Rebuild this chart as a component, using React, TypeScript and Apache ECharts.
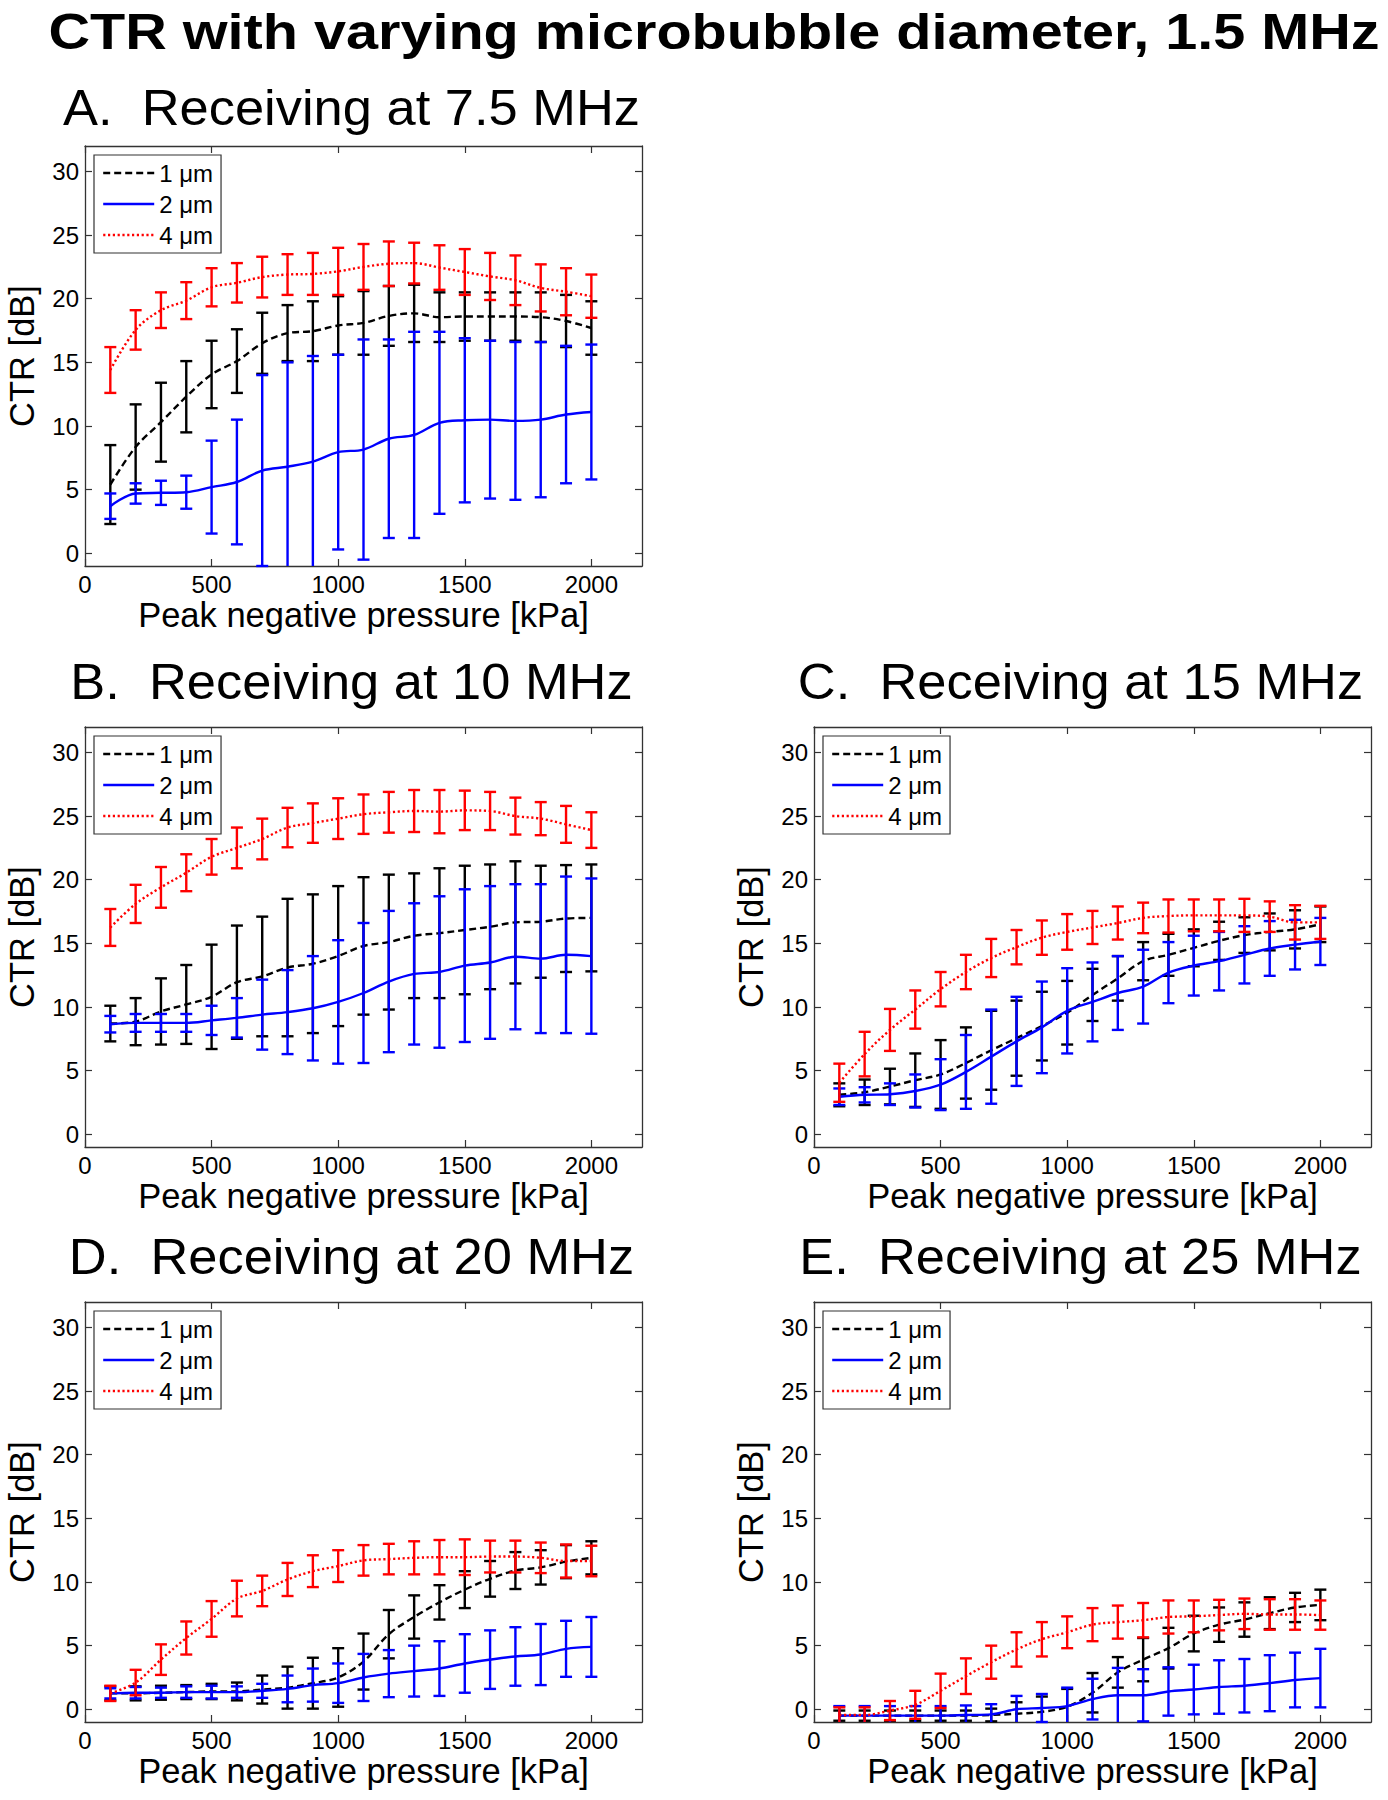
import React, { useEffect, useRef } from "react";
import * as echarts from "echarts";

// ---------------- DATA ----------------
const PRESSURE = [100, 200, 300, 400, 500, 600, 700, 800, 900, 1000, 1100, 1200, 1300, 1400, 1500, 1600, 1700, 1800, 1900, 2000];
const X_TICKS = [0, 500, 1000, 1500, 2000];
const Y_TICKS = [0, 5, 10, 15, 20, 25, 30];
const SERIES_NAMES = ["1 \u03bcm", "2 \u03bcm", "4 \u03bcm"];
const MAIN_TITLE = "CTR with varying microbubble diameter, 1.5 MHz";
const PANEL_TITLES = ["A.  Receiving at 7.5 MHz", "B.  Receiving at 10 MHz", "C.  Receiving at 15 MHz", "D.  Receiving at 20 MHz", "E.  Receiving at 25 MHz"];
const X_NAME = "Peak negative pressure [kPa]";
const Y_NAME = "CTR [dB]";

// Panel A – 7.5 MHz
const A_MEAN_1 = [5.4, 8.35, 10.3, 12.3, 14.05, 15.1, 16.5, 17.3, 17.45, 17.9, 18.1, 18.65, 18.85, 18.55, 18.6, 18.6, 18.6, 18.55, 18.25, 17.7];
const A_ERR_1 = [3.1, 3.35, 3.1, 2.8, 2.65, 2.5, 2.4, 2.2, 2.35, 2.3, 2.5, 2.35, 2.25, 1.95, 1.9, 1.9, 1.9, 1.95, 2.05, 2.1];
const A_MEAN_2 = [3.7, 4.7, 4.75, 4.8, 5.2, 5.6, 6.5, 6.8, 7.2, 7.95, 8.15, 9.0, 9.3, 10.25, 10.45, 10.5, 10.4, 10.5, 10.9, 11.1];
const A_ERR_2 = [1.0, 0.8, 0.95, 1.3, 3.65, 4.9, 7.5, 8.2, 8.3, 7.65, 8.65, 7.8, 8.1, 7.15, 6.45, 6.2, 6.2, 6.1, 5.4, 5.3];
const A_MEAN_4 = [14.4, 17.55, 19.1, 19.85, 20.9, 21.25, 21.7, 21.9, 21.95, 22.15, 22.5, 22.75, 22.8, 22.45, 22.1, 21.75, 21.45, 20.85, 20.55, 20.2];
const A_ERR_4 = [1.8, 1.55, 1.4, 1.45, 1.5, 1.55, 1.6, 1.6, 1.65, 1.85, 1.8, 1.75, 1.6, 1.75, 1.8, 1.85, 1.95, 1.85, 1.85, 1.7];

// Panel B – 10 MHz
const B_MEAN_1 = [8.7, 8.85, 9.65, 10.2, 10.8, 11.95, 12.4, 13.1, 13.4, 14.0, 14.8, 15.1, 15.6, 15.8, 16.05, 16.3, 16.65, 16.7, 16.95, 17.0];
const B_ERR_1 = [1.4, 1.85, 2.6, 3.1, 4.1, 4.45, 4.7, 5.4, 5.45, 5.5, 5.4, 5.3, 4.9, 5.1, 5.05, 4.9, 4.8, 4.4, 4.2, 4.2];
const B_MEAN_2 = [8.65, 8.75, 8.75, 8.75, 8.95, 9.15, 9.4, 9.6, 9.9, 10.4, 11.1, 12.0, 12.6, 12.75, 13.25, 13.5, 13.95, 13.8, 14.1, 14.0];
const B_ERR_2 = [0.65, 0.7, 0.7, 0.7, 1.15, 1.55, 2.75, 3.3, 4.1, 4.85, 5.5, 5.55, 5.55, 5.95, 6.0, 6.0, 5.7, 5.85, 6.15, 6.1];
const B_MEAN_4 = [16.25, 18.1, 19.4, 20.55, 21.8, 22.5, 23.2, 24.1, 24.45, 24.8, 25.15, 25.3, 25.4, 25.35, 25.45, 25.4, 25.0, 24.8, 24.35, 23.9];
const B_ERR_4 = [1.45, 1.5, 1.6, 1.45, 1.4, 1.6, 1.6, 1.55, 1.55, 1.6, 1.55, 1.6, 1.65, 1.7, 1.55, 1.5, 1.45, 1.3, 1.45, 1.4];

// Panel C – 15 MHz
const C_MEAN_1 = [3.1, 3.3, 3.75, 4.25, 4.7, 5.6, 6.6, 7.55, 8.5, 9.55, 10.95, 12.25, 13.6, 14.1, 14.65, 15.2, 15.65, 15.9, 16.1, 16.5];
const C_ERR_1 = [0.9, 1.0, 1.4, 2.1, 2.7, 2.8, 3.1, 2.95, 2.7, 2.5, 2.05, 1.75, 1.5, 1.65, 1.45, 1.5, 1.4, 1.45, 1.5, 1.4];
const C_MEAN_2 = [2.95, 3.1, 3.15, 3.4, 3.9, 4.9, 6.1, 7.3, 8.4, 9.7, 10.4, 11.1, 11.6, 12.7, 13.25, 13.6, 14.1, 14.6, 14.9, 15.15];
const C_ERR_2 = [0.65, 0.6, 0.85, 1.3, 2.0, 2.9, 3.7, 3.5, 3.6, 3.35, 3.1, 2.9, 2.9, 2.4, 2.35, 2.3, 2.25, 2.15, 1.95, 1.85];
const C_MEAN_4 = [4.05, 6.3, 8.2, 9.8, 11.4, 12.75, 13.85, 14.7, 15.45, 15.9, 16.25, 16.6, 17.0, 17.15, 17.2, 17.2, 17.2, 17.1, 16.65, 16.65];
const C_ERR_4 = [1.5, 1.75, 1.65, 1.5, 1.35, 1.35, 1.5, 1.35, 1.35, 1.4, 1.3, 1.3, 1.2, 1.3, 1.25, 1.25, 1.3, 1.2, 1.35, 1.3];

// Panel D – 20 MHz
const D_MEAN_1 = [1.25, 1.25, 1.3, 1.35, 1.4, 1.4, 1.55, 1.7, 2.05, 2.5, 3.75, 5.9, 7.25, 8.4, 9.4, 10.25, 10.9, 11.15, 11.6, 11.9];
const D_ERR_1 = [0.55, 0.55, 0.55, 0.55, 0.6, 0.7, 1.1, 1.65, 2.0, 2.3, 2.2, 1.9, 1.7, 1.35, 1.45, 1.4, 1.45, 1.35, 1.3, 1.3];
const D_MEAN_2 = [1.25, 1.3, 1.3, 1.35, 1.35, 1.35, 1.45, 1.6, 1.9, 2.05, 2.5, 2.8, 3.0, 3.2, 3.6, 3.9, 4.15, 4.3, 4.75, 4.9];
const D_ERR_2 = [0.4, 0.45, 0.4, 0.45, 0.5, 0.45, 0.55, 1.05, 1.3, 1.55, 1.85, 1.85, 2.0, 2.15, 2.3, 2.3, 2.3, 2.4, 2.2, 2.35];
const D_MEAN_4 = [1.25, 2.1, 3.9, 5.6, 7.1, 8.7, 9.3, 10.2, 10.85, 11.25, 11.7, 11.8, 11.9, 11.95, 11.95, 12.0, 12.0, 11.9, 11.65, 11.65];
const D_ERR_4 = [0.6, 1.0, 1.2, 1.3, 1.4, 1.4, 1.2, 1.3, 1.25, 1.25, 1.2, 1.2, 1.3, 1.35, 1.4, 1.25, 1.25, 1.2, 1.3, 1.2];

// Panel E – 25 MHz
const E_MEAN_1 = [-0.5, -0.5, -0.5, -0.5, -0.5, -0.5, -0.45, -0.35, -0.2, 0.2, 1.3, 2.9, 3.9, 4.8, 5.95, 6.65, 7.05, 7.55, 8.0, 8.2];
const E_ERR_1 = [0.4, 0.4, 0.4, 0.4, 0.4, 0.4, 0.5, 0.9, 1.2, 1.4, 1.55, 1.2, 1.7, 1.6, 1.4, 1.35, 1.35, 1.25, 1.15, 1.2];
const E_MEAN_2 = [-0.5, -0.5, -0.5, -0.5, -0.5, -0.45, -0.4, 0.0, 0.1, 0.25, 0.8, 1.1, 1.1, 1.4, 1.55, 1.75, 1.85, 2.05, 2.3, 2.45];
const E_ERR_2 = [0.75, 0.75, 0.75, 0.75, 0.75, 0.75, 0.8, 1.05, 1.1, 1.45, 1.6, 2.15, 2.05, 1.9, 1.95, 2.1, 2.1, 2.2, 2.15, 2.3];
const E_MEAN_4 = [-0.45, -0.45, -0.1, 0.35, 1.45, 2.6, 3.7, 4.7, 5.5, 6.05, 6.65, 6.85, 7.0, 7.25, 7.3, 7.4, 7.5, 7.45, 7.45, 7.4];
const E_ERR_4 = [0.6, 0.6, 0.75, 1.1, 1.35, 1.4, 1.3, 1.35, 1.35, 1.25, 1.3, 1.3, 1.35, 1.3, 1.25, 1.2, 1.2, 1.2, 1.2, 1.15];

const X_MIN = 0, X_MAX = 2200, Y_MIN = -1, Y_MAX = 32;

// ---------------- LAYOUT / STYLE ----------------
const FONT = 'Arial, "Liberation Sans", Helvetica, sans-serif';
const COLORS = ["#000000", "#0000ff", "#ff0000"];
const DASHES: any[] = [[7, 4], "solid", [2.2, 2.6]];
const GRIDS = [
  { left: 85, top: 146, titleGap: 38 },
  { left: 85, top: 727, titleGap: 45 },
  { left: 814, top: 727, titleGap: 45 },
  { left: 85, top: 1302, titleGap: 45 },
  { left: 814, top: 1302, titleGap: 45 },
];
const GRID_W = 557, GRID_H = 420;

const PANELS = [
  { means: [A_MEAN_1, A_MEAN_2, A_MEAN_4], errs: [A_ERR_1, A_ERR_2, A_ERR_4] },
  { means: [B_MEAN_1, B_MEAN_2, B_MEAN_4], errs: [B_ERR_1, B_ERR_2, B_ERR_4] },
  { means: [C_MEAN_1, C_MEAN_2, C_MEAN_4], errs: [C_ERR_1, C_ERR_2, C_ERR_4] },
  { means: [D_MEAN_1, D_MEAN_2, D_MEAN_4], errs: [D_ERR_1, D_ERR_2, D_ERR_4] },
  { means: [E_MEAN_1, E_MEAN_2, E_MEAN_4], errs: [E_ERR_1, E_ERR_2, E_ERR_4] },
];

function measure(text: string, font: string): number {
  const c = document.createElement("canvas");
  const ctx = c.getContext("2d");
  if (!ctx) return 0;
  ctx.font = font;
  return ctx.measureText(text).width;
}

const plainNumber = (v: number) => String(v);

function buildOption() {
  const mainSize = 50;
  const mainW = measure(MAIN_TITLE, `bold ${mainSize}px ${FONT}`) || 1158;
  const mainScale = 1332 / mainW;
  const panelSize = 50;
  const panelW = measure(PANEL_TITLES[0], `${panelSize}px ${FONT}`) || 550;
  const panelScale = 577 / panelW;

  const grid: any[] = [];
  const xAxis: any[] = [];
  const yAxis: any[] = [];
  const series: any[] = [];
  const legend: any[] = [];
  const graphic: any[] = [];

  graphic.push({
    type: "text",
    x: 714,
    y: 31,
    scaleX: mainScale,
    style: {
      text: MAIN_TITLE,
      font: `bold ${mainSize}px ${FONT}`,
      fill: "#000",
      textAlign: "center",
      textVerticalAlign: "middle",
    },
  });

  const frame = "#333333";

  GRIDS.forEach((g, i) => {
    grid.push({ left: g.left, top: g.top, width: GRID_W, height: GRID_H, containLabel: false });

    graphic.push({
      type: "text",
      x: g.left + GRID_W / 2 - 12,
      y: g.top - g.titleGap,
      scaleX: panelScale,
      style: {
        text: PANEL_TITLES[i],
        font: `${panelSize}px ${FONT}`,
        fill: "#000",
        textAlign: "center",
        textVerticalAlign: "middle",
      },
    });

    const tickCommon = { inside: true, length: 7, lineStyle: { color: frame, width: 1.2 } };
    xAxis.push({
      gridIndex: i, type: "value", position: "bottom", min: X_MIN, max: X_MAX,
      axisLine: { show: true, onZero: false, lineStyle: { color: frame, width: 1.3 } },
      axisTick: { ...tickCommon, customValues: X_TICKS },
      axisLabel: { customValues: X_TICKS, formatter: plainNumber, fontSize: 24, color: "#000", margin: 6, fontFamily: FONT },
      splitLine: { show: false },
      name: X_NAME, nameLocation: "middle", nameGap: 31,
      nameTextStyle: { fontSize: 34.5, color: "#000", fontFamily: FONT },
    });
    xAxis.push({
      gridIndex: i, type: "value", position: "top", min: X_MIN, max: X_MAX,
      axisLine: { show: true, onZero: false, lineStyle: { color: frame, width: 1.3 } },
      axisTick: { ...tickCommon, customValues: X_TICKS },
      axisLabel: { show: false },
      splitLine: { show: false },
    });
    yAxis.push({
      gridIndex: i, type: "value", position: "left", min: Y_MIN, max: Y_MAX,
      axisLine: { show: true, onZero: false, lineStyle: { color: frame, width: 1.3 } },
      axisTick: { ...tickCommon, customValues: Y_TICKS },
      axisLabel: { customValues: Y_TICKS, formatter: plainNumber, fontSize: 24, color: "#000", margin: 6, fontFamily: FONT },
      splitLine: { show: false },
      name: Y_NAME, nameLocation: "middle", nameGap: 46,
      nameTextStyle: { fontSize: 34.5, color: "#000", fontFamily: FONT },
    });
    yAxis.push({
      gridIndex: i, type: "value", position: "right", min: Y_MIN, max: Y_MAX,
      axisLine: { show: true, onZero: false, lineStyle: { color: frame, width: 1.3 } },
      axisTick: { ...tickCommon, customValues: Y_TICKS },
      axisLabel: { show: false },
      splitLine: { show: false },
    });

    const panel = PANELS[i];
    for (let k = 0; k < 3; k++) {
      const mean = panel.means[k];
      const err = panel.errs[k];
      const color = COLORS[k];
      series.push({
        type: "custom",
        name: `${SERIES_NAMES[k]} error ${i}`,
        xAxisIndex: 2 * i,
        yAxisIndex: 2 * i,
        z: 2 + k,
        silent: true,
        data: PRESSURE.map((p, j) => [p, mean[j] - err[j], mean[j] + err[j]]),
        encode: { x: 0, y: [1, 2] },
        renderItem: (params: any, api: any) => {
          const x = api.value(0);
          const lo = api.value(1);
          const hi = api.value(2);
          const loC = Math.max(lo, Y_MIN);
          const hiC = Math.min(hi, Y_MAX);
          const pT = api.coord([x, hiC]);
          const pB = api.coord([x, loC]);
          const half = 6;
          const style = { stroke: color, lineWidth: 2.4 };
          const children: any[] = [
            { type: "line", shape: { x1: pT[0], y1: pT[1], x2: pB[0], y2: pB[1] }, style },
          ];
          if (hi <= Y_MAX) children.push({ type: "line", shape: { x1: pT[0] - half, y1: pT[1], x2: pT[0] + half, y2: pT[1] }, style });
          if (lo >= Y_MIN) children.push({ type: "line", shape: { x1: pB[0] - half, y1: pB[1], x2: pB[0] + half, y2: pB[1] }, style });
          return { type: "group", children };
        },
      });
      series.push({
        type: "line",
        name: SERIES_NAMES[k],
        xAxisIndex: 2 * i,
        yAxisIndex: 2 * i,
        z: 2 + k,
        data: PRESSURE.map((p, j) => [p, mean[j]]),
        smooth: 0.35,
        symbol: "none",
        showSymbol: false,
        lineStyle: { color, width: 2.4, type: DASHES[k] },
        itemStyle: { color },
      });
    }

    legend.push({
      data: SERIES_NAMES,
      left: g.left + 9,
      top: g.top + 9,
      orient: "vertical",
      backgroundColor: "#ffffff",
      borderColor: frame,
      borderWidth: 1.2,
      borderRadius: 0,
      padding: [6, 8, 6, 8],
      itemWidth: 51,
      itemHeight: 26,
      itemGap: 7,
      selectedMode: false,
      itemStyle: { opacity: 0, borderWidth: 0 },
      lineStyle: { width: 2.4 },
      textStyle: { fontSize: 24, color: "#000", fontFamily: FONT },
    });
  });

  return {
    animation: false,
    backgroundColor: "#ffffff",
    textStyle: { fontFamily: FONT },
    grid,
    xAxis,
    yAxis,
    legend,
    series,
    graphic,
  };
}

export default function App() {
  const ref = useRef<HTMLDivElement>(null);
  useEffect(() => {
    document.body.style.margin = "0";
    if (!ref.current) return;
    const chart = echarts.init(ref.current, undefined, { renderer: "svg" });
    chart.setOption(buildOption());
    return () => {
      chart.dispose();
    };
  }, []);
  return <div ref={ref} style={{ width: 1388, height: 1800, background: "#fff" }} />;
}
